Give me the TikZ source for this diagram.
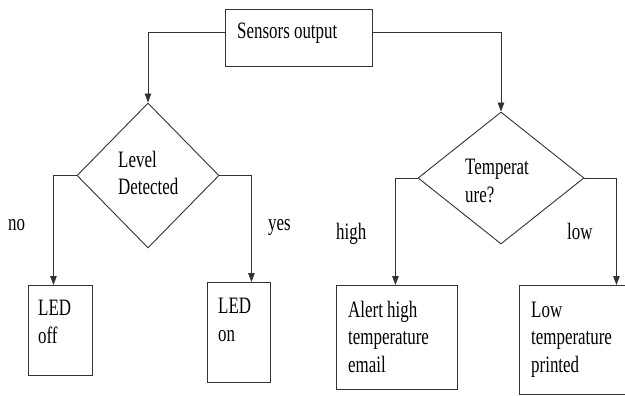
\documentclass[tikz,border=0pt]{standalone}
\usepackage{fontspec}
\setmainfont{Liberation Serif}[FakeStretch=0.72]
\usetikzlibrary{arrows.meta,shapes.geometric}
\tikzset{
  line/.style={draw=black!80,line width=0.9pt},
  arr/.style={line,-{Triangle[length=9pt,width=6.5pt]}},
  boxn/.style={line,rectangle,inner sep=0pt,anchor=north west},
  dia/.style={line,diamond,inner sep=0pt},
  txt/.style={inner sep=0pt,anchor=base west,align=left,font=\fontsize{23.5}{27.5}\selectfont},
}
\begin{document}
\begin{tikzpicture}[x=1pt,y=-1pt]
\useasboundingbox (0,0) rectangle (625,396);
\fill[white] (0,0) rectangle (625,396);
\clip (0,0) rectangle (625,396);
% boxes
\node[boxn,minimum width=147pt,minimum height=57pt] (sens) at (225,9) {};
\node[txt] (senst) at (237,39) {Sensors output};
\node[dia,minimum width=142pt,minimum height=145pt] (lvl) at (148,175.5) {};
\node[txt] (lvlt) at (118,195) {Level\\Detected};
\node[dia,minimum width=166pt,minimum height=132pt] (temp) at (501,178) {};
\node[txt] (tempt) at (465,202) {Temperat\\ure?};
\node[boxn,minimum width=64pt,minimum height=90pt] (ledoff) at (28,285) {};
\node[txt] (ledofft) at (38,343) {LED\\off};
\node[boxn,minimum width=63pt,minimum height=100pt] (ledon) at (207,282) {};
\node[txt] (ledont) at (218,341) {LED\\on};
\node[boxn,minimum width=121pt,minimum height=104pt] (alert) at (336,285) {};
\node[txt] (alertt) at (348,372) {Alert high\\temperature\\email};
\node[boxn,minimum width=111pt,minimum height=109pt] (low) at (519,285) {};
\node[txt] (lowt) at (531,372) {Low\\temperature\\printed};
% labels
\node[txt] (no) at (8,230) {no};
\node[txt] (yes) at (268,230) {yes};
\node[txt] (high) at (336,240) {high};
\node[txt] (lowl) at (567,240) {low};
% connectors
\coordinate (sl) at (225,32);
\coordinate (sr) at (372,32);
\draw[arr] (sl) -| (lvl.north);
\draw[arr] (sr) -| (temp.north);
\draw[arr] (lvl.west) -| ([xshift=-7pt]ledoff.north);
\draw[arr] (lvl.east) -| ([xshift=12.5pt]ledon.north);
\draw[arr] (temp.west) -| ([xshift=-1.5pt]alert.north);
\draw[arr] (temp.east) -| ([xshift=41.5pt]low.north);
\end{tikzpicture}
\end{document}
